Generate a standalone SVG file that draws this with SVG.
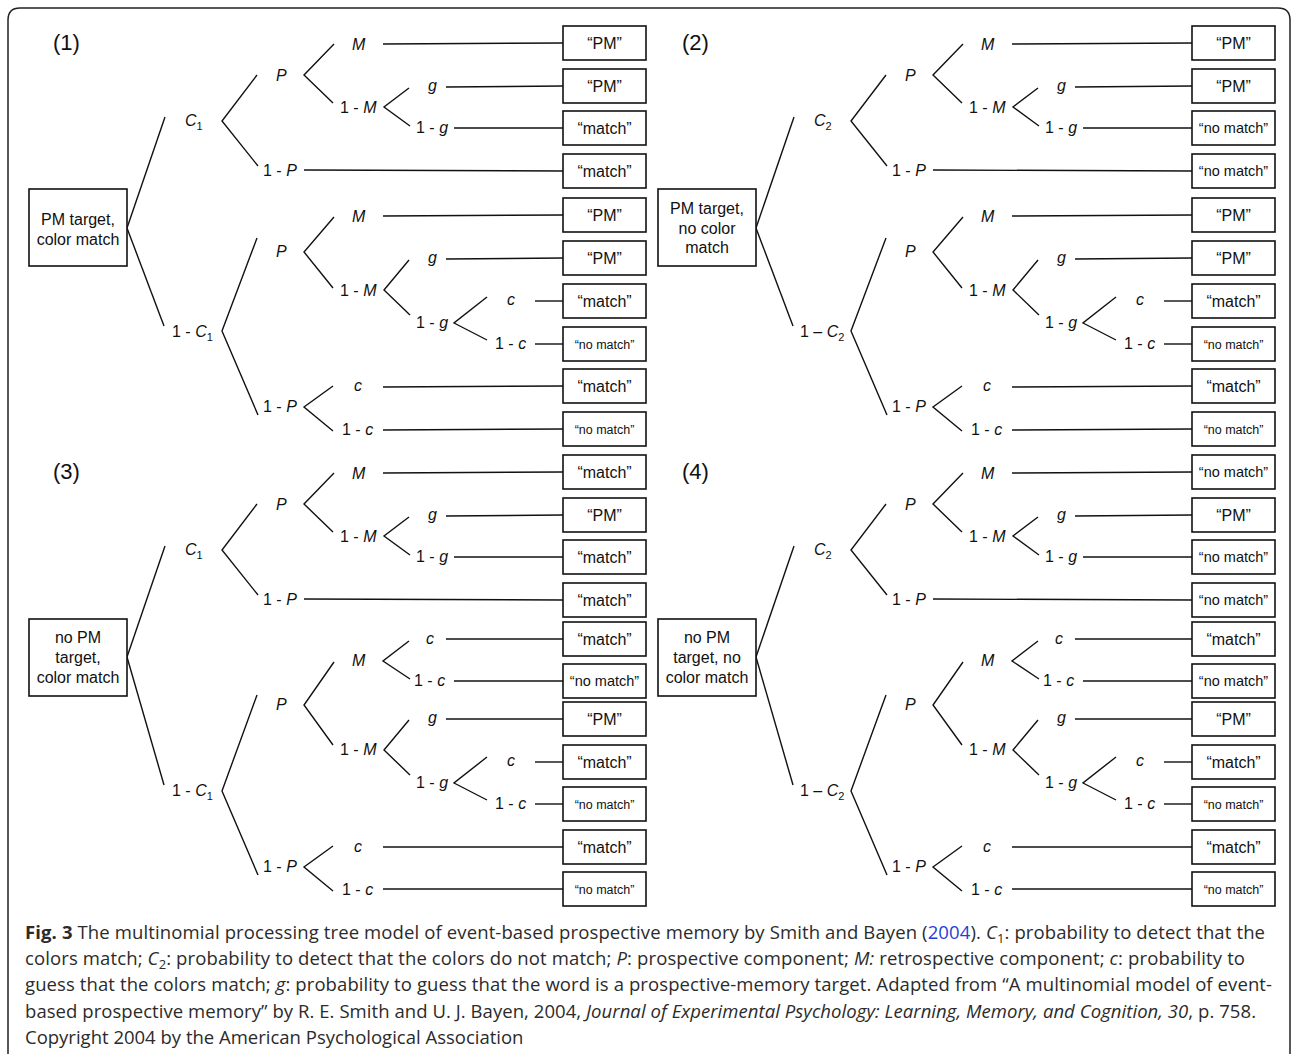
<svg xmlns="http://www.w3.org/2000/svg" width="1292" height="1054" viewBox="0 0 1292 1054">
<defs>
<style>
.t{font-family:"Liberation Sans",Arial,sans-serif;font-size:16px;fill:#111}
.i{font-style:italic}
.num{font-family:"Liberation Sans",Arial,sans-serif;font-size:22px;fill:#111}
.root{font-family:"Liberation Sans",Arial,sans-serif;font-size:16px;fill:#111;text-anchor:middle}
.box{fill:#fff;stroke:#111;stroke-width:1.6}
.leaf{font-family:"Liberation Sans",Arial,sans-serif;font-size:16px;fill:#111;text-anchor:middle}
.nmL{font-size:14.5px}
.nmS{font-size:12.5px}
.conn line,.conn polyline{stroke:#111;stroke-width:1.4;fill:none}
.cap{font-family:"Open Sans","DejaVu Sans",sans-serif;font-size:18.5px;fill:#2b2b2b}
.b{font-weight:bold}
.link{fill:#1f3fd8}
</style>
</defs>
<rect width="1292" height="1054" fill="#fff"/>
<path d="M8,1054 V20 Q8,8 20,8 H1278 Q1290,8 1290,20 V1054" fill="none" stroke="#222" stroke-width="1.5"/>

<!-- PANEL 1 -->
<g id="panel1">
<g id="p1-connectors" class="conn">
<line x1="127" y1="228" x2="165" y2="117"/>
<line x1="127" y1="228" x2="164" y2="326"/>
<polyline points="257,75 222,121 258,166"/>
<polyline points="334,44 304,75 333,103"/>
<line x1="383" y1="44" x2="563" y2="43"/>
<polyline points="409,88 384,107 410,126"/>
<line x1="446" y1="87" x2="563" y2="86"/>
<line x1="454" y1="128" x2="563" y2="128"/>
<line x1="304" y1="170" x2="563" y2="171"/>
<polyline points="257,238 222,331 258,415"/>
<polyline points="334,217 304,252 333,288"/>
<line x1="383" y1="216" x2="563" y2="215"/>
<polyline points="409,260 384,290 410,315"/>
<line x1="446" y1="259" x2="563" y2="258"/>
<polyline points="487,297 454,323 487,340"/>
<line x1="535" y1="301" x2="563" y2="301"/>
<line x1="535" y1="344" x2="563" y2="344"/>
<polyline points="333,386 304,407 333,431"/>
<line x1="383" y1="387" x2="563" y2="386"/>
<line x1="383" y1="430" x2="563" y2="429"/>
</g>
<text class="num" x="53" y="50">(1)</text>
<g id="p1-root"><rect class="box" x="29" y="189" width="98" height="77"/><text class="root" x="78" y="225">PM target,</text><text class="root" x="78" y="245">color match</text></g>
<g id="p1-C1"><text class="t" x="185" y="126"><tspan class="i">C</tspan><tspan dy="4" font-size="11">1</tspan></text></g>
<g id="p1-P"><text class="t i" x="276" y="81">P</text></g>
<g id="p1-M"><text class="t i" x="352" y="50">M</text></g>
<g id="p1-1M"><text class="t" x="340" y="113">1 - <tspan class="i">M</tspan></text></g>
<g id="p1-g"><text class="t i" x="428" y="91">g</text></g>
<g id="p1-1g"><text class="t" x="416" y="133">1 - <tspan class="i">g</tspan></text></g>
<g id="p1-1P"><text class="t" x="263" y="176">1 - <tspan class="i">P</tspan></text></g>
<g id="p1-1C1"><text class="t" x="172" y="337">1 - <tspan class="i">C</tspan><tspan dy="4" font-size="11">1</tspan></text></g>
<g id="p1-P2"><text class="t i" x="276" y="257">P</text></g>
<g id="p1-M2"><text class="t i" x="352" y="222">M</text></g>
<g id="p1-1M2"><text class="t" x="340" y="296">1 - <tspan class="i">M</tspan></text></g>
<g id="p1-g2"><text class="t i" x="428" y="263">g</text></g>
<g id="p1-1g2"><text class="t" x="416" y="328">1 - <tspan class="i">g</tspan></text></g>
<g id="p1-c"><text class="t i" x="507" y="305">c</text></g>
<g id="p1-1c"><text class="t" x="495" y="349">1 - <tspan class="i">c</tspan></text></g>
<g id="p1-1P2"><text class="t" x="263" y="412">1 - <tspan class="i">P</tspan></text></g>
<g id="p1-c2"><text class="t i" x="354" y="391">c</text></g>
<g id="p1-1c2"><text class="t" x="342" y="435">1 - <tspan class="i">c</tspan></text></g>
<g id="p1-leaf1"><rect class="box" x="563" y="26" width="83" height="34"/><text class="leaf" x="604.5" y="49">“PM”</text></g>
<g id="p1-leaf2"><rect class="box" x="563" y="69" width="83" height="34"/><text class="leaf" x="604.5" y="92">“PM”</text></g>
<g id="p1-leaf3"><rect class="box" x="563" y="111" width="83" height="34"/><text class="leaf" x="604.5" y="134">“match”</text></g>
<g id="p1-leaf4"><rect class="box" x="563" y="154" width="83" height="34"/><text class="leaf" x="604.5" y="177">“match”</text></g>
<g id="p1-leaf5"><rect class="box" x="563" y="198" width="83" height="34"/><text class="leaf" x="604.5" y="221">“PM”</text></g>
<g id="p1-leaf6"><rect class="box" x="563" y="241" width="83" height="34"/><text class="leaf" x="604.5" y="264">“PM”</text></g>
<g id="p1-leaf7"><rect class="box" x="563" y="284" width="83" height="34"/><text class="leaf" x="604.5" y="307">“match”</text></g>
<g id="p1-leaf8"><rect class="box" x="563" y="327" width="83" height="34"/><text class="leaf nmS" x="604.5" y="348.5">“no match”</text></g>
<g id="p1-leaf9"><rect class="box" x="563" y="369" width="83" height="34"/><text class="leaf" x="604.5" y="392">“match”</text></g>
<g id="p1-leaf10"><rect class="box" x="563" y="412" width="83" height="34"/><text class="leaf nmS" x="604.5" y="433.5">“no match”</text></g>
</g>

<!-- PANEL 2 -->
<g id="panel2" transform="translate(629,0)">
<g id="p2-connectors" class="conn">
<line x1="127" y1="228" x2="165" y2="117"/>
<line x1="127" y1="228" x2="164" y2="326"/>
<polyline points="257,75 222,121 258,166"/>
<polyline points="334,44 304,75 333,103"/>
<line x1="383" y1="44" x2="563" y2="43"/>
<polyline points="409,88 384,107 410,126"/>
<line x1="446" y1="87" x2="563" y2="86"/>
<line x1="454" y1="128" x2="563" y2="128"/>
<line x1="304" y1="170" x2="563" y2="171"/>
<polyline points="257,238 222,331 258,415"/>
<polyline points="334,217 304,252 333,288"/>
<line x1="383" y1="216" x2="563" y2="215"/>
<polyline points="409,260 384,290 410,315"/>
<line x1="446" y1="259" x2="563" y2="258"/>
<polyline points="487,297 454,323 487,340"/>
<line x1="535" y1="301" x2="563" y2="301"/>
<line x1="535" y1="344" x2="563" y2="344"/>
<polyline points="333,386 304,407 333,431"/>
<line x1="383" y1="387" x2="563" y2="386"/>
<line x1="383" y1="430" x2="563" y2="429"/>
</g>
<text class="num" x="53" y="50">(2)</text>
<g id="p2-root"><rect class="box" x="29" y="189" width="98" height="77"/><text class="root" x="78" y="214">PM target,</text><text class="root" x="78" y="234">no color</text><text class="root" x="78" y="253">match</text></g>
<g id="p2-C2"><text class="t" x="185" y="126"><tspan class="i">C</tspan><tspan dy="4" font-size="11">2</tspan></text></g>
<g id="p2-P"><text class="t i" x="276" y="81">P</text></g>
<g id="p2-M"><text class="t i" x="352" y="50">M</text></g>
<g id="p2-1M"><text class="t" x="340" y="113">1 - <tspan class="i">M</tspan></text></g>
<g id="p2-g"><text class="t i" x="428" y="91">g</text></g>
<g id="p2-1g"><text class="t" x="416" y="133">1 - <tspan class="i">g</tspan></text></g>
<g id="p2-1P"><text class="t" x="263" y="176">1 - <tspan class="i">P</tspan></text></g>
<g id="p2-1C2"><text class="t" x="171" y="337">1 – <tspan class="i">C</tspan><tspan dy="4" font-size="11">2</tspan></text></g>
<g id="p2-P2"><text class="t i" x="276" y="257">P</text></g>
<g id="p2-M2"><text class="t i" x="352" y="222">M</text></g>
<g id="p2-1M2"><text class="t" x="340" y="296">1 - <tspan class="i">M</tspan></text></g>
<g id="p2-g2"><text class="t i" x="428" y="263">g</text></g>
<g id="p2-1g2"><text class="t" x="416" y="328">1 - <tspan class="i">g</tspan></text></g>
<g id="p2-c"><text class="t i" x="507" y="305">c</text></g>
<g id="p2-1c"><text class="t" x="495" y="349">1 - <tspan class="i">c</tspan></text></g>
<g id="p2-1P2"><text class="t" x="263" y="412">1 - <tspan class="i">P</tspan></text></g>
<g id="p2-c2"><text class="t i" x="354" y="391">c</text></g>
<g id="p2-1c2"><text class="t" x="342" y="435">1 - <tspan class="i">c</tspan></text></g>
<g id="p2-leaf1"><rect class="box" x="563" y="26" width="83" height="34"/><text class="leaf" x="604.5" y="49">“PM”</text></g>
<g id="p2-leaf2"><rect class="box" x="563" y="69" width="83" height="34"/><text class="leaf" x="604.5" y="92">“PM”</text></g>
<g id="p2-leaf3"><rect class="box" x="563" y="111" width="83" height="34"/><text class="leaf nmL" x="604.5" y="133">“no match”</text></g>
<g id="p2-leaf4"><rect class="box" x="563" y="154" width="83" height="34"/><text class="leaf nmL" x="604.5" y="176">“no match”</text></g>
<g id="p2-leaf5"><rect class="box" x="563" y="198" width="83" height="34"/><text class="leaf" x="604.5" y="221">“PM”</text></g>
<g id="p2-leaf6"><rect class="box" x="563" y="241" width="83" height="34"/><text class="leaf" x="604.5" y="264">“PM”</text></g>
<g id="p2-leaf7"><rect class="box" x="563" y="284" width="83" height="34"/><text class="leaf" x="604.5" y="307">“match”</text></g>
<g id="p2-leaf8"><rect class="box" x="563" y="327" width="83" height="34"/><text class="leaf nmS" x="604.5" y="348.5">“no match”</text></g>
<g id="p2-leaf9"><rect class="box" x="563" y="369" width="83" height="34"/><text class="leaf" x="604.5" y="392">“match”</text></g>
<g id="p2-leaf10"><rect class="box" x="563" y="412" width="83" height="34"/><text class="leaf nmS" x="604.5" y="433.5">“no match”</text></g>
</g>

<!-- PANEL 3 -->
<g id="panel3" transform="translate(0,429)">
<g id="p3-connectors" class="conn">
<line x1="127" y1="228" x2="165" y2="117"/>
<line x1="127" y1="228" x2="164" y2="356"/>
<polyline points="257,75 222,121 258,166"/>
<polyline points="334,44 304,75 333,103"/>
<line x1="383" y1="44" x2="563" y2="43"/>
<polyline points="409,88 384,107 410,126"/>
<line x1="446" y1="87" x2="563" y2="86"/>
<line x1="454" y1="128" x2="563" y2="128"/>
<line x1="304" y1="170" x2="563" y2="171"/>
<polyline points="257,266 222,362 258,446"/>
<polyline points="334,233 304,276 333,316"/>
<polyline points="409,212 383,232 410,250"/>
<line x1="446" y1="210" x2="563" y2="210"/>
<line x1="454" y1="252" x2="563" y2="252"/>
<polyline points="409,291 384,321 410,346"/>
<line x1="446" y1="290" x2="563" y2="290"/>
<polyline points="487,328 454,354 487,371"/>
<line x1="535" y1="333" x2="563" y2="333"/>
<line x1="535" y1="375" x2="563" y2="375"/>
<polyline points="333,417 304,438 333,462"/>
<line x1="383" y1="418" x2="563" y2="418"/>
<line x1="383" y1="460" x2="563" y2="460"/>
</g>
<text class="num" x="53" y="50">(3)</text>
<g id="p3-root"><rect class="box" x="29" y="190" width="98" height="77"/><text class="root" x="78" y="214">no PM</text><text class="root" x="78" y="234">target,</text><text class="root" x="78" y="254">color match</text></g>
<g id="p3-C1"><text class="t" x="185" y="126"><tspan class="i">C</tspan><tspan dy="4" font-size="11">1</tspan></text></g>
<g id="p3-P"><text class="t i" x="276" y="81">P</text></g>
<g id="p3-M"><text class="t i" x="352" y="50">M</text></g>
<g id="p3-1M"><text class="t" x="340" y="113">1 - <tspan class="i">M</tspan></text></g>
<g id="p3-g"><text class="t i" x="428" y="91">g</text></g>
<g id="p3-1g"><text class="t" x="416" y="133">1 - <tspan class="i">g</tspan></text></g>
<g id="p3-1P"><text class="t" x="263" y="176">1 - <tspan class="i">P</tspan></text></g>
<g id="p3-1C1"><text class="t" x="172" y="367">1 - <tspan class="i">C</tspan><tspan dy="4" font-size="11">1</tspan></text></g>
<g id="p3-P2"><text class="t i" x="276" y="281">P</text></g>
<g id="p3-M2"><text class="t i" x="352" y="237">M</text></g>
<g id="p3-c1"><text class="t i" x="426" y="215">c</text></g>
<g id="p3-1c1"><text class="t" x="414" y="257">1 - <tspan class="i">c</tspan></text></g>
<g id="p3-1M2"><text class="t" x="340" y="326">1 - <tspan class="i">M</tspan></text></g>
<g id="p3-g2"><text class="t i" x="428" y="294">g</text></g>
<g id="p3-1g2"><text class="t" x="416" y="359">1 - <tspan class="i">g</tspan></text></g>
<g id="p3-c"><text class="t i" x="507" y="337">c</text></g>
<g id="p3-1c"><text class="t" x="495" y="380">1 - <tspan class="i">c</tspan></text></g>
<g id="p3-1P2"><text class="t" x="263" y="443">1 - <tspan class="i">P</tspan></text></g>
<g id="p3-c2"><text class="t i" x="354" y="423">c</text></g>
<g id="p3-1c2"><text class="t" x="342" y="466">1 - <tspan class="i">c</tspan></text></g>
<g id="p3-leaf1"><rect class="box" x="563" y="26" width="83" height="34"/><text class="leaf" x="604.5" y="49">“match”</text></g>
<g id="p3-leaf2"><rect class="box" x="563" y="69" width="83" height="34"/><text class="leaf" x="604.5" y="92">“PM”</text></g>
<g id="p3-leaf3"><rect class="box" x="563" y="111" width="83" height="34"/><text class="leaf" x="604.5" y="134">“match”</text></g>
<g id="p3-leaf4"><rect class="box" x="563" y="154" width="83" height="34"/><text class="leaf" x="604.5" y="177">“match”</text></g>
<g id="p3-leaf5"><rect class="box" x="563" y="193" width="83" height="34"/><text class="leaf" x="604.5" y="216">“match”</text></g>
<g id="p3-leaf6"><rect class="box" x="563" y="235" width="83" height="34"/><text class="leaf nmL" x="604.5" y="257">“no match”</text></g>
<g id="p3-leaf7"><rect class="box" x="563" y="273" width="83" height="34"/><text class="leaf" x="604.5" y="296">“PM”</text></g>
<g id="p3-leaf8"><rect class="box" x="563" y="316" width="83" height="34"/><text class="leaf" x="604.5" y="339">“match”</text></g>
<g id="p3-leaf9"><rect class="box" x="563" y="358" width="83" height="34"/><text class="leaf nmS" x="604.5" y="379.5">“no match”</text></g>
<g id="p3-leaf10"><rect class="box" x="563" y="401" width="83" height="34"/><text class="leaf" x="604.5" y="424">“match”</text></g>
<g id="p3-leaf11"><rect class="box" x="563" y="443" width="83" height="34"/><text class="leaf nmS" x="604.5" y="464.5">“no match”</text></g>
</g>

<!-- PANEL 4 -->
<g id="panel4" transform="translate(629,429)">
<g id="p4-connectors" class="conn">
<line x1="127" y1="228" x2="165" y2="117"/>
<line x1="127" y1="228" x2="164" y2="356"/>
<polyline points="257,75 222,121 258,166"/>
<polyline points="334,44 304,75 333,103"/>
<line x1="383" y1="44" x2="563" y2="43"/>
<polyline points="409,88 384,107 410,126"/>
<line x1="446" y1="87" x2="563" y2="86"/>
<line x1="454" y1="128" x2="563" y2="128"/>
<line x1="304" y1="170" x2="563" y2="171"/>
<polyline points="257,266 222,362 258,446"/>
<polyline points="334,233 304,276 333,316"/>
<polyline points="409,212 383,232 410,250"/>
<line x1="446" y1="210" x2="563" y2="210"/>
<line x1="454" y1="252" x2="563" y2="252"/>
<polyline points="409,291 384,321 410,346"/>
<line x1="446" y1="290" x2="563" y2="290"/>
<polyline points="487,328 454,354 487,371"/>
<line x1="535" y1="333" x2="563" y2="333"/>
<line x1="535" y1="375" x2="563" y2="375"/>
<polyline points="333,417 304,438 333,462"/>
<line x1="383" y1="418" x2="563" y2="418"/>
<line x1="383" y1="460" x2="563" y2="460"/>
</g>
<text class="num" x="53" y="50">(4)</text>
<g id="p4-root"><rect class="box" x="29" y="190" width="98" height="77"/><text class="root" x="78" y="214">no PM</text><text class="root" x="78" y="234">target, no</text><text class="root" x="78" y="254">color match</text></g>
<g id="p4-C2"><text class="t" x="185" y="126"><tspan class="i">C</tspan><tspan dy="4" font-size="11">2</tspan></text></g>
<g id="p4-P"><text class="t i" x="276" y="81">P</text></g>
<g id="p4-M"><text class="t i" x="352" y="50">M</text></g>
<g id="p4-1M"><text class="t" x="340" y="113">1 - <tspan class="i">M</tspan></text></g>
<g id="p4-g"><text class="t i" x="428" y="91">g</text></g>
<g id="p4-1g"><text class="t" x="416" y="133">1 - <tspan class="i">g</tspan></text></g>
<g id="p4-1P"><text class="t" x="263" y="176">1 - <tspan class="i">P</tspan></text></g>
<g id="p4-1C2"><text class="t" x="171" y="367">1 – <tspan class="i">C</tspan><tspan dy="4" font-size="11">2</tspan></text></g>
<g id="p4-P2"><text class="t i" x="276" y="281">P</text></g>
<g id="p4-M2"><text class="t i" x="352" y="237">M</text></g>
<g id="p4-c1"><text class="t i" x="426" y="215">c</text></g>
<g id="p4-1c1"><text class="t" x="414" y="257">1 - <tspan class="i">c</tspan></text></g>
<g id="p4-1M2"><text class="t" x="340" y="326">1 - <tspan class="i">M</tspan></text></g>
<g id="p4-g2"><text class="t i" x="428" y="294">g</text></g>
<g id="p4-1g2"><text class="t" x="416" y="359">1 - <tspan class="i">g</tspan></text></g>
<g id="p4-c"><text class="t i" x="507" y="337">c</text></g>
<g id="p4-1c"><text class="t" x="495" y="380">1 - <tspan class="i">c</tspan></text></g>
<g id="p4-1P2"><text class="t" x="263" y="443">1 - <tspan class="i">P</tspan></text></g>
<g id="p4-c2"><text class="t i" x="354" y="423">c</text></g>
<g id="p4-1c2"><text class="t" x="342" y="466">1 - <tspan class="i">c</tspan></text></g>
<g id="p4-leaf1"><rect class="box" x="563" y="26" width="83" height="34"/><text class="leaf nmL" x="604.5" y="48">“no match”</text></g>
<g id="p4-leaf2"><rect class="box" x="563" y="69" width="83" height="34"/><text class="leaf" x="604.5" y="92">“PM”</text></g>
<g id="p4-leaf3"><rect class="box" x="563" y="111" width="83" height="34"/><text class="leaf nmL" x="604.5" y="133">“no match”</text></g>
<g id="p4-leaf4"><rect class="box" x="563" y="154" width="83" height="34"/><text class="leaf nmL" x="604.5" y="176">“no match”</text></g>
<g id="p4-leaf5"><rect class="box" x="563" y="193" width="83" height="34"/><text class="leaf" x="604.5" y="216">“match”</text></g>
<g id="p4-leaf6"><rect class="box" x="563" y="235" width="83" height="34"/><text class="leaf nmL" x="604.5" y="257">“no match”</text></g>
<g id="p4-leaf7"><rect class="box" x="563" y="273" width="83" height="34"/><text class="leaf" x="604.5" y="296">“PM”</text></g>
<g id="p4-leaf8"><rect class="box" x="563" y="316" width="83" height="34"/><text class="leaf" x="604.5" y="339">“match”</text></g>
<g id="p4-leaf9"><rect class="box" x="563" y="358" width="83" height="34"/><text class="leaf nmS" x="604.5" y="379.5">“no match”</text></g>
<g id="p4-leaf10"><rect class="box" x="563" y="401" width="83" height="34"/><text class="leaf" x="604.5" y="424">“match”</text></g>
<g id="p4-leaf11"><rect class="box" x="563" y="443" width="83" height="34"/><text class="leaf nmS" x="604.5" y="464.5">“no match”</text></g>
</g>

<!-- CAPTION -->
<g id="caption">
<text class="cap" x="25" y="939" textLength="1240"><tspan class="b">Fig. 3</tspan> The multinomial processing tree model of event-based prospective memory by Smith and Bayen (<tspan class="link">2004</tspan>). <tspan class="i">C</tspan><tspan dy="4" font-size="13">1</tspan><tspan dy="-4">: probability to detect that the</tspan></text>
<text class="cap" x="25" y="965" textLength="1220">colors match; <tspan class="i">C</tspan><tspan dy="4" font-size="13">2</tspan><tspan dy="-4">: probability to detect that the colors do not match; </tspan><tspan class="i">P</tspan>: prospective component; <tspan class="i">M:</tspan> retrospective component; <tspan class="i">c</tspan>: probability to</text>
<text class="cap" x="25" y="991" textLength="1247">guess that the colors match; <tspan class="i">g</tspan>: probability to guess that the word is a prospective-memory target. Adapted from “A multinomial model of event-</text>
<text class="cap" x="25" y="1018" textLength="1231">based prospective memory” by R. E. Smith and U. J. Bayen, 2004, <tspan class="i">Journal of Experimental Psychology: Learning, Memory, and Cognition, 30</tspan>, p. 758.</text>
<text class="cap" x="25" y="1044">Copyright 2004 by the American Psychological Association</text>
</g>
</svg>
